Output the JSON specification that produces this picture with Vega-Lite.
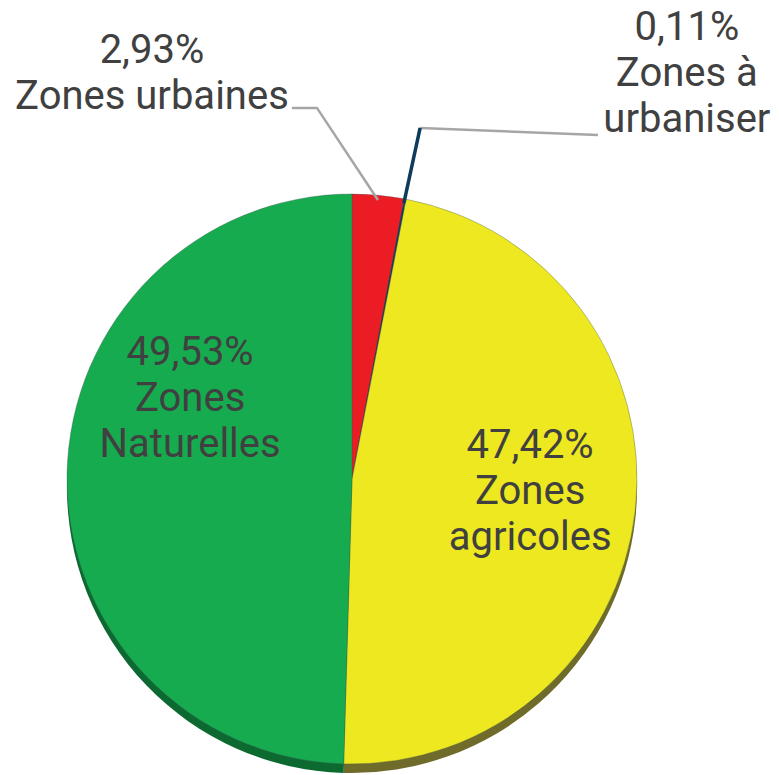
{
  "$schema": "https://vega.github.io/schema/vega-lite/v6.json",
  "width": 704,
  "height": 592,
  "autosize": {"type": "none"},
  "padding": {"left": 0, "top": 183, "right": 75, "bottom": 0},
  "background": "white",
  "config": {"view": {"stroke": null}},
  "datasets": {
    "slices": [
      {"zone": "Zones urbaines", "pct": 2.93, "rank": 1},
      {"zone": "Zones à urbaniser", "pct": 0.11, "rank": 2},
      {"zone": "Zones agricoles", "pct": 47.42, "rank": 3},
      {"zone": "Zones Naturelles", "pct": 49.53, "rank": 4}
    ],
    "labels": [
      {"zone": "Zones urbaines", "lines": ["2,93%", "Zones urbaines"], "x": -0.702, "y": 1.46},
      {"zone": "Zones à urbaniser", "lines": ["0,11%", "Zones à", "urbaniser"], "x": 1.175, "y": 1.54},
      {"zone": "Zones Naturelles", "lines": ["49,53%", "Zones", "Naturelles"], "x": -0.568, "y": 0.4},
      {"zone": "Zones agricoles", "lines": ["47,42%", "Zones", "agricoles"], "x": 0.625, "y": 0.074}
    ],
    "greyLeaders": [
      {"seg": "urbaines", "i": 1, "x": -0.211, "y": 1.302},
      {"seg": "urbaines", "i": 2, "x": -0.123, "y": 1.302},
      {"seg": "urbaines", "i": 3, "x": 0.091, "y": 0.979},
      {"seg": "urbaniser", "i": 1, "x": 0.239, "y": 1.232},
      {"seg": "urbaniser", "i": 2, "x": 0.863, "y": 1.207}
    ],
    "blueLeader": [
      {"i": 1, "x": 0.182, "y": 0.968},
      {"i": 2, "x": 0.239, "y": 1.232}
    ]
  },
  "layer": [
    {
      "data": {"name": "slices"},
      "mark": {"type": "arc", "outerRadius": 285, "yOffset": 9},
      "encoding": {
        "theta": {"field": "pct", "type": "quantitative", "stack": true},
        "order": {"field": "rank", "type": "quantitative"},
        "color": {
          "field": "zone", "type": "nominal", "legend": null,
          "scale": {
            "domain": ["Zones urbaines", "Zones à urbaniser", "Zones agricoles", "Zones Naturelles"],
            "range": ["#8a1217", "#082a42", "#6f6b2a", "#0c6a31"]
          }
        }
      }
    },
    {
      "data": {"name": "slices"},
      "mark": {"type": "arc", "outerRadius": 285, "stroke": "#3a5555", "strokeWidth": 0.6, "strokeOpacity": 0.6},
      "encoding": {
        "theta": {"field": "pct", "type": "quantitative", "stack": true},
        "order": {"field": "rank", "type": "quantitative"},
        "color": {
          "field": "zone", "type": "nominal", "legend": null,
          "scale": {
            "domain": ["Zones urbaines", "Zones à urbaniser", "Zones agricoles", "Zones Naturelles"],
            "range": ["#ec1c24", "#0d3b5c", "#ede81f", "#17ab4f"]
          }
        }
      }
    },
    {
      "data": {"name": "greyLeaders"},
      "mark": {"type": "line", "color": "#a6a6a6", "strokeWidth": 2.5},
      "encoding": {
        "x": {"field": "x", "type": "quantitative", "axis": null, "scale": {"domain": [-1.2351, 1.2351], "nice": false, "zero": false}},
        "y": {"field": "y", "type": "quantitative", "axis": null, "scale": {"domain": [-1.0386, 1.0386], "nice": false, "zero": false}},
        "detail": {"field": "seg", "type": "nominal"},
        "order": {"field": "i", "type": "quantitative"}
      }
    },
    {
      "data": {"name": "blueLeader"},
      "mark": {"type": "line", "color": "#0d3b5c", "strokeWidth": 3.5},
      "encoding": {
        "x": {"field": "x", "type": "quantitative", "axis": null, "scale": {"domain": [-1.2351, 1.2351], "nice": false, "zero": false}},
        "y": {"field": "y", "type": "quantitative", "axis": null, "scale": {"domain": [-1.0386, 1.0386], "nice": false, "zero": false}},
        "order": {"field": "i", "type": "quantitative"}
      }
    },
    {
      "data": {"name": "labels"},
      "mark": {"type": "text", "font": "Roboto", "fontSize": 40, "lineHeight": 46, "align": "center", "baseline": "alphabetic", "color": "#404040"},
      "encoding": {
        "x": {"field": "x", "type": "quantitative", "axis": null, "scale": {"domain": [-1.2351, 1.2351], "nice": false, "zero": false}},
        "y": {"field": "y", "type": "quantitative", "axis": null, "scale": {"domain": [-1.0386, 1.0386], "nice": false, "zero": false}},
        "text": {"field": "lines"}
      }
    }
  ],
  "resolve": {"scale": {"color": "independent"}}
}
